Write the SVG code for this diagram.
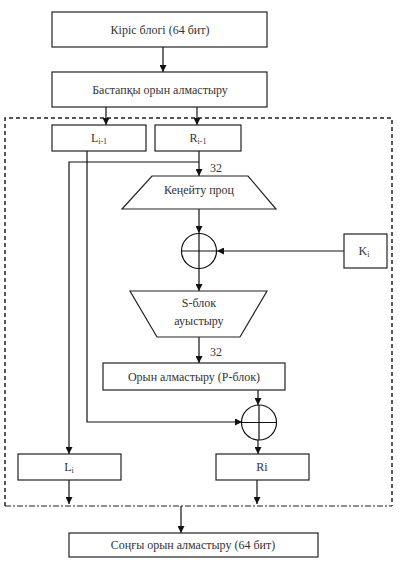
<svg xmlns="http://www.w3.org/2000/svg" width="400" height="566" viewBox="0 0 400 566">
<defs>
<marker id="ah" viewBox="0 0 8 8" refX="8" refY="4" markerWidth="7" markerHeight="7" markerUnits="userSpaceOnUse" orient="auto">
<path d="M0,0 L8,4 L0,8 z" fill="#111"/>
</marker>
<style>
.b{fill:#fff;stroke:#222;stroke-width:1.2}
.t{font-family:"Liberation Serif","Times New Roman",serif;font-size:12px;fill:#333;text-anchor:middle}
.s{font-size:8px}
.c{fill:none;stroke:#111;stroke-width:1.2}
.a{fill:none;stroke:#111;stroke-width:1.2;marker-end:url(#ah)}
</style>
</defs>
<rect width="400" height="566" fill="#fff"/>
<g id="round-frame">
<path d="M5,506 L5,118 L392,118 L392,506" fill="none" stroke="#222" stroke-width="1.5" stroke-dasharray="4,3"/>
<path d="M5,506 L392,506" fill="none" stroke="#222" stroke-width="1.2" stroke-dasharray="6,2,2,2"/>
</g>
<g id="connectors">
<path class="a" d="M163,47 L163,72"/>
<path class="a" d="M106,107 L106,125"/>
<path class="a" d="M197,107 L197,125"/>
<path class="a" d="M199,151 L199,176"/>
<path class="a" d="M199,162 L69,162 L69,454"/>
<path class="a" d="M87,151 L87,422 L242,422"/>
<path class="a" d="M199,209 L199,233"/>
<path class="a" d="M344,251 L217,251"/>
<path class="a" d="M199,268 L199,291"/>
<path class="a" d="M199,337 L199,363"/>
<path class="a" d="M258,390 L258,405"/>
<path class="a" d="M258,440 L258,454"/>
<path class="a" d="M69,480 L69,504"/>
<path class="a" d="M257,480 L257,504"/>
<path class="a" d="M181,506 L181,533"/>
<text class="t" x="216" y="172">32</text>
<text class="t" x="216" y="356">32</text>
</g>
<g id="input">
<rect class="b" x="52" y="12" width="215" height="35"/>
<text class="t" x="160" y="34">Кіріс блогі (64 бит)</text>
</g>
<g id="initial-perm">
<rect class="b" x="52" y="72" width="215" height="35"/>
<text class="t" x="160" y="94">Бастапқы орын алмастыру</text>
</g>
<g id="L-prev">
<rect class="b" x="52" y="125" width="94" height="26"/>
<text class="t" x="99" y="142">L<tspan class="s" dy="2">i-1</tspan></text>
</g>
<g id="R-prev">
<rect class="b" x="155" y="125" width="86" height="26"/>
<text class="t" x="198" y="142">R<tspan class="s" dy="2">i-1</tspan></text>
</g>
<g id="expansion">
<path class="b" d="M152,176 L248,176 L276,209 L122,209 z"/>
<text class="t" x="199" y="194">Кеңейту проц</text>
</g>
<g id="xor1">
<circle class="c" cx="199" cy="251" r="17.5" fill="#fff"/>
<path class="c" d="M181.5,251 L216.5,251 M199,233.5 L199,268.5"/>
</g>
<g id="key">
<rect class="b" x="344" y="234" width="43" height="34"/>
<text class="t" x="364" y="255">K<tspan class="s" dy="2">i</tspan></text>
</g>
<g id="sbox">
<path class="b" d="M130,291 L267,291 L240,337 L157,337 z"/>
<text class="t" x="199" y="307">S-блок</text>
<text class="t" x="199" y="325">ауыстыру</text>
</g>
<g id="pbox">
<rect class="b" x="103" y="363" width="182" height="27"/>
<text class="t" x="194" y="381">Орын алмастыру (Р-блок)</text>
</g>
<g id="xor2">
<circle class="c" cx="259" cy="422.5" r="17.5" fill="#fff"/>
<path class="c" d="M241.5,422.5 L276.5,422.5 M259,405 L259,440"/>
</g>
<g id="L-i">
<rect class="b" x="18" y="454" width="103" height="26"/>
<text class="t" x="69" y="471">L<tspan class="s" dy="2">i</tspan></text>
</g>
<g id="R-i">
<rect class="b" x="216" y="454" width="93" height="26"/>
<text class="t" x="262" y="471">Ri</text>
</g>
<g id="final-perm">
<rect class="b" x="69" y="533" width="249" height="24"/>
<text class="t" x="193" y="549">Соңғы орын алмастыру (64 бит)</text>
</g>
</svg>
